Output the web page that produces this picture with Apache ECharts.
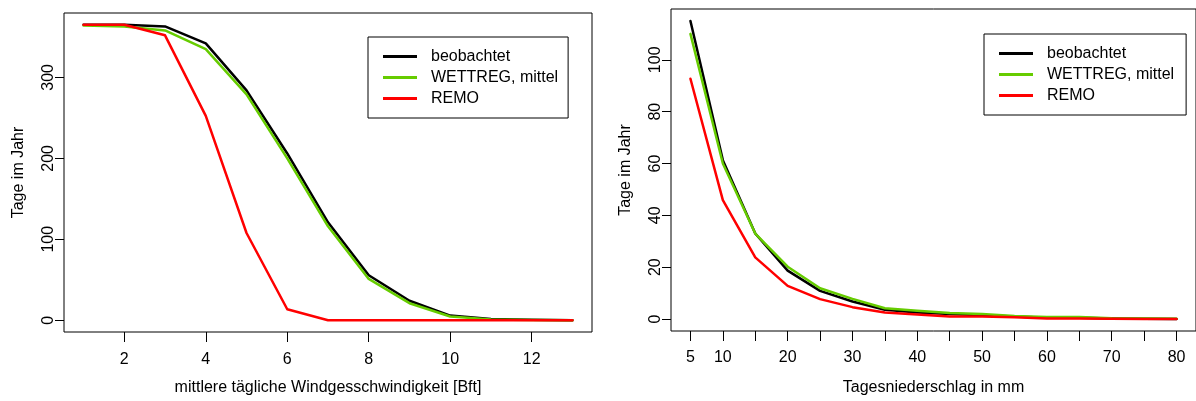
<!DOCTYPE html>
<html>
<head>
<meta charset="utf-8">
<script src="https://cdn.jsdelivr.net/npm/echarts@6/dist/echarts.min.js"></script>
<style>
html,body{margin:0;padding:0;background:#fff;}
#chart{width:1196px;height:401px;}
</style>
</head>
<body>
<div id="chart"></div>
<script>
// ---- data ----
const seriesNames = ['beobachtet', 'WETTREG, mittel', 'REMO'];
const windX = [1, 2, 3, 4, 5, 6, 7, 8, 9, 10, 11, 12, 13];
const windBeob = [365, 365, 363, 342, 284, 206, 121, 55.5, 24, 5.7, 1.5, 0.5, 0];
const windWett = [364, 363, 358, 335, 279, 200, 116, 51, 21, 4.5, 1, 0.3, 0];
const windRemo = [365, 365, 352, 252.5, 107.7, 13.5, 0, 0, 0, 0, 0, 0, 0];
const windXTicks = [2, 4, 6, 8, 10, 12];
const windYTicks = [0, 100, 200, 300];

const rainX = [5, 10, 15, 20, 25, 30, 35, 40, 45, 50, 55, 60, 65, 70, 75, 80];
const rainBeob = [115, 61.3, 33, 18.7, 10.9, 6.8, 3.6, 2.5, 2, 1.5, 1, 0.5, 0.5, 0.2, 0.1, 0];
const rainWett = [110, 60, 33, 20.2, 11.9, 7.8, 4.2, 3.2, 2.3, 2, 1.2, 0.8, 0.8, 0.3, 0.2, 0.1];
const rainRemo = [92.7, 45.9, 23.8, 12.8, 7.7, 4.6, 2.5, 1.8, 1, 1, 0.7, 0.2, 0.2, 0.1, 0, 0];
const rainXTicks = [5, 10, 15, 20, 25, 30, 35, 40, 45, 50, 55, 60, 65, 70, 75, 80];
const rainXLabels = [5, 10, 20, 30, 40, 50, 60, 70, 80];
const rainYTicks = [0, 20, 40, 60, 80, 100];

const colors = ['#000000', '#66CC00', '#FF0000'];
const FONT = 'Liberation Sans, Arial, sans-serif';

function pairs(xs, ys) { return xs.map((x, i) => [x, ys[i]]); }

const chart = echarts.init(document.getElementById('chart'), null, {renderer: 'canvas'});

function xAxisCfg(gridIndex, min, max, ticks, labels, name, gap, margin) {
  return {
    type: 'value', gridIndex, min, max, position: 'bottom',
    axisLine: {show: false, onZero: false},
    splitLine: {show: false},
    axisTick: {show: true, length: 10, customValues: ticks, lineStyle: {color: '#000', width: 1}},
    axisLabel: {show: true, customValues: labels, margin, color: '#000', fontSize: 16, fontFamily: FONT},
    name, nameLocation: 'middle', nameGap: gap,
    nameTextStyle: {color: '#000', fontSize: 16, fontFamily: FONT}
  };
}
function yAxisCfg(gridIndex, min, max, ticks, name, gap) {
  return {
    type: 'value', gridIndex, min, max, position: 'left',
    axisLine: {show: false, onZero: false},
    splitLine: {show: false},
    axisTick: {show: true, length: 9, customValues: ticks, lineStyle: {color: '#000', width: 1}},
    axisLabel: {show: true, customValues: ticks, rotate: 90, margin: 7, color: '#000', fontSize: 16, fontFamily: FONT},
    name, nameLocation: 'middle', nameGap: gap, nameRotate: 90,
    nameTextStyle: {color: '#000', fontSize: 16, fontFamily: FONT}
  };
}
function lineSeries(name, xi, data, color) {
  return {
    name, type: 'line', xAxisIndex: xi, yAxisIndex: xi, data,
    showSymbol: false, symbol: 'none', animation: false,
    lineStyle: {color, width: 2.5, cap: 'round', join: 'round'},
    itemStyle: {color}
  };
}
function legendCfg(left, top, padRight) {
  return {
    left, top, orient: 'vertical',
    data: seriesNames,
    icon: 'rect', itemWidth: 34, itemHeight: 3, itemGap: 0,
    borderColor: '#000', borderWidth: 1,
    padding: [9, padRight, 9, 15],
    selectedMode: false,
    textStyle: {color: '#000', fontSize: 16, fontFamily: FONT, lineHeight: 21, padding: [0, 0, 0, 9]}
  };
}

chart.setOption({
  animation: false,
  backgroundColor: '#fff',
  color: colors,
  grid: [
    {left: 64, top: 13, width: 528, height: 321, show: true, borderColor: '#000', borderWidth: 1, backgroundColor: 'transparent', containLabel: false},
    {left: 671, top: 9, width: 528, height: 322, show: true, borderColor: '#000', borderWidth: 1, backgroundColor: 'transparent', containLabel: false}
  ],
  xAxis: [
    xAxisCfg(0, 0.52, 13.48, windXTicks, windXTicks, 'mittlere tägliche Windgesschwindigkeit [Bft]', 48, 20),
    xAxisCfg(1, 2, 83, rainXTicks, rainXLabels, 'Tagesniederschlag in mm', 49, 19)
  ],
  yAxis: [
    yAxisCfg(0, -14.6, 379.6, windYTicks, 'Tage im Jahr', 37),
    yAxisCfg(1, -4.6, 119.6, rainYTicks, 'Tage im Jahr', 37)
  ],
  legend: [legendCfg(368, 37, 10), legendCfg(984, 34, 12)],
  series: [
    lineSeries(seriesNames[0], 0, pairs(windX, windBeob), colors[0]),
    lineSeries(seriesNames[1], 0, pairs(windX, windWett), colors[1]),
    lineSeries(seriesNames[2], 0, pairs(windX, windRemo), colors[2]),
    lineSeries(seriesNames[0], 1, pairs(rainX, rainBeob), colors[0]),
    lineSeries(seriesNames[1], 1, pairs(rainX, rainWett), colors[1]),
    lineSeries(seriesNames[2], 1, pairs(rainX, rainRemo), colors[2])
  ]
});
</script>
</body>
</html>
